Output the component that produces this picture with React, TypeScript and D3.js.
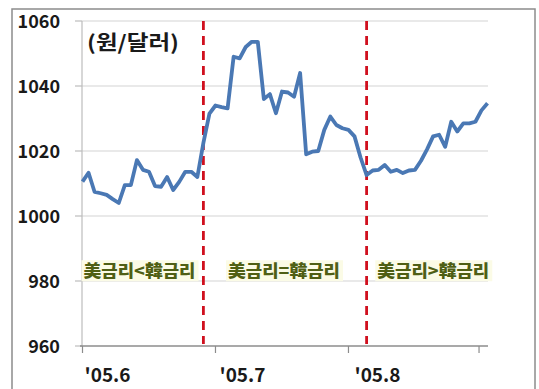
import React from "react";
import * as d3 from "d3";

const yTicks = [960, 980, 1000, 1020, 1040, 1060];
const xTickIdx = [0, 22, 44, 65.6];
const xLabels = ["'05.6", "'05.7", "'05.8"];
const xLabelIdx = [0, 22, 44];
const eventIdx = [20, 47];
const regionLabels = ["美금리<韓금리", "美금리=韓금리", "美금리>韓금리"];
const regionIdx = [0, 23.9, 48.6];
const unitLabel = "(원/달러)";

const rates = [
  1010.6, 1013.3, 1007.4, 1007.0, 1006.5, 1005.2, 1004.0, 1009.5, 1009.5, 1017.2,
  1014.2, 1013.6, 1009.2, 1009.0, 1012.0, 1008.0, 1010.5, 1013.6, 1013.6, 1012.0,
  1022.5, 1031.5, 1034.0, 1033.5, 1033.1, 1049.0, 1048.5, 1052.0, 1053.6, 1053.6,
  1036.0, 1037.5, 1031.6, 1038.3, 1038.0, 1036.7, 1044.0, 1019.0, 1019.8, 1020.0,
  1026.5, 1030.6, 1028.0, 1027.0, 1026.5, 1024.5, 1018.0, 1012.6, 1014.0, 1014.2,
  1015.7, 1013.6, 1014.2, 1013.2, 1014.0, 1014.2, 1017.0, 1020.5, 1024.5, 1025.0,
  1021.3, 1029.0, 1026.0, 1028.5, 1028.5, 1029.0, 1032.5, 1034.7,
];

const W = 539;
const H = 389;
const FONT = "'Noto Sans CJK KR', 'Noto Sans', sans-serif";

export default function App() {
  const x = d3.scaleLinear().domain([0, rates.length - 1]).range([82.5, 487.5]);
  const y = d3.scaleLinear().domain([960, 1060]).range([346, 21]);
  const line = d3
    .line<number>()
    .x((_, i) => x(i))
    .y((d) => y(d))
    .curve(d3.curveLinear);
  const plotL = 82;
  const plotR = 488;

  return (
    <svg
      width={W}
      height={H}
      style={{ position: "absolute", left: 0, top: 0, background: "#fff" }}
      fontFamily={FONT}
    >
      {/* outer frame */}
      <rect x={12} y={9} width={523} height={H} fill="none" stroke="#8c8c8c" strokeWidth={1.5} />
      {/* gridlines */}
      {yTicks.filter((t) => t !== 960).map((t) => (
        <line key={t} x1={plotL} x2={plotR} y1={y(t)} y2={y(t)} stroke="#d4d4d4" strokeWidth={1.2} />
      ))}
      {/* y axis */}
      <line x1={plotL} x2={plotL} y1={y(1060)} y2={y(960)} stroke="#bdbdbd" strokeWidth={1.2} />
      {yTicks.map((t) => (
        <g key={t}>
          <line x1={plotL - 7} x2={plotL} y1={y(t)} y2={y(t)} stroke="#bdbdbd" strokeWidth={1.2} />
          <text x={60} y={y(t) + 1} dy="0.35em" textAnchor="end" fontSize={18} fontWeight="bold" fill="#1a1a1a">
            {t}
          </text>
        </g>
      ))}
      {/* x axis */}
      <line x1={plotL - 2} x2={plotR} y1={y(960)} y2={y(960)} stroke="#8c8c8c" strokeWidth={1.5} />
      {xTickIdx.map((t) => (
        <line key={t} x1={x(t)} x2={x(t)} y1={y(960)} y2={y(960) + 7} stroke="#8c8c8c" strokeWidth={1.2} />
      ))}
      {xLabels.map((l, i) => (
        <text key={l} x={x(xLabelIdx[i]) + 2 + i * 2} y={382} fontSize={19} fontWeight="bold" fill="#1a1a1a">
          {l}
        </text>
      ))}
      {/* region labels */}
      {regionLabels.map((l, i) => (
        <g key={l}>
          <rect x={x(regionIdx[i]) - 1} y={y(983) - 11} width={117} height={21} fill="#fbfbe6" />
          <text
            x={x(regionIdx[i]) + 1}
            y={y(983)}
            dy="0.36em"
            fontSize={16.5}
            fontWeight="900"
            fill="#4f5f14"
            textLength={112}
            lengthAdjust="spacingAndGlyphs"
          >
            {l}
          </text>
        </g>
      ))}
      {/* event lines */}
      {eventIdx.map((e) => (
        <line
          key={e}
          x1={x(e)}
          x2={x(e)}
          y1={y(1060)}
          y2={y(960) - 2}
          stroke="#d0101e"
          strokeWidth={2.8}
          strokeDasharray="9,6"
        />
      ))}
      {/* data line */}
      <path d={line(rates) || ""} fill="none" stroke="#4a78b4" strokeWidth={3.8} strokeLinejoin="round" />
      {/* unit */}
      <text
        x={87}
        y={43}
        dy="0.36em"
        fontSize={20}
        fontWeight="bold"
        fill="#1a1a1a"
        textLength={92}
        lengthAdjust="spacingAndGlyphs"
      >
        {unitLabel}
      </text>
    </svg>
  );
}
